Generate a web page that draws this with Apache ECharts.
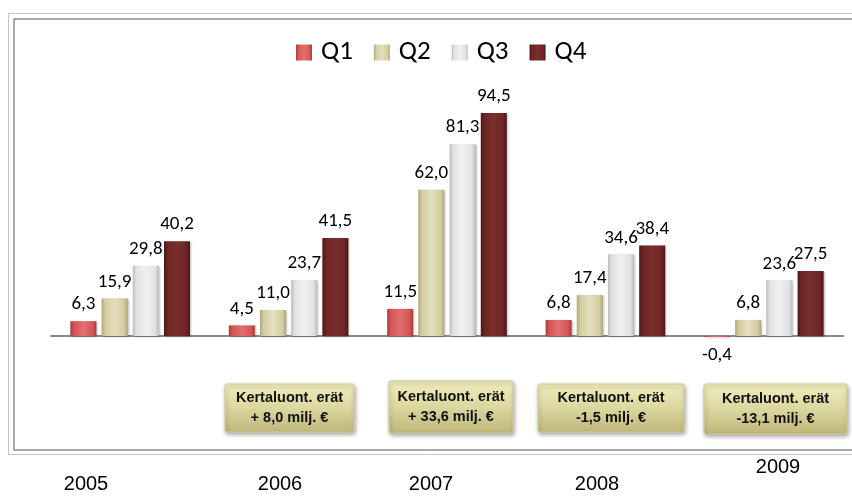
<!DOCTYPE html>
<html>
<head>
<meta charset="utf-8">
<script src="https://cdn.jsdelivr.net/npm/echarts@6/dist/echarts.min.js"></script>
<style>
  html, body { margin: 0; padding: 0; background: #ffffff; }
  #chart { width: 852px; height: 496px; }
</style>
</head>
<body>
<div id="chart"></div>
<script>
const YEARS = ["2005", "2006", "2007", "2008", "2009"];
const SERIES_NAMES = ["Q1", "Q2", "Q3", "Q4"];
const Q1 = [6.3, 4.5, 11.5, 6.8, -0.4];
const Q2 = [15.9, 11.0, 62.0, 17.4, 6.8];
const Q3 = [29.8, 23.7, 81.3, 34.6, 23.6];
const Q4 = [40.2, 41.5, 94.5, 38.4, 27.5];

const NOTE_TITLE = "Kertaluont. erät";
const NOTE_VALUES = ["+ 8,0 milj. €", "+ 33,6 milj. €", "-1,5 milj. €", "-13,1 milj. €"];

// layout (px) for the free-standing texts and boxes
const YEAR_LABEL_POS = [[86, 484], [280, 484], [431, 484], [597, 484], [778, 467]];
const NOTE_BOXES = [[225, 384, 129, 48], [389, 381, 124, 52], [538, 384, 146, 48], [704, 384, 143, 50]];

const BAR_SHADES = [
  ["#a63b3b", "#d65454", "#e07070", "#d65454", "#a63b3b"],
  ["#aea678", "#d4cda2", "#e4dfbd", "#d4cda2", "#aea678"],
  ["#bcbcbc", "#e2e2e2", "#f0f0f0", "#e2e2e2", "#bcbcbc"],
  ["#4c1616", "#6c2525", "#7a2e2e", "#6c2525", "#4c1616"],
];

const LABEL_FONT = "Carlito, 'Noto Sans', sans-serif";

function fmt(v) {
  return v.toFixed(1).replace(".", ",");
}

function barFill(shades) {
  return new echarts.graphic.LinearGradient(0, 0, 1, 0, [
    { offset: 0, color: shades[0] },
    { offset: 0.14, color: shades[1] },
    { offset: 0.5, color: shades[2] },
    { offset: 0.86, color: shades[3] },
    { offset: 1, color: shades[4] },
  ]);
}

const chart = echarts.init(document.getElementById("chart"), null, { renderer: "canvas" });

const seriesData = [Q1, Q2, Q3, Q4];

const graphics = [
  {
    type: "rect",
    shape: { x: 8.5, y: 13.5, width: 860, height: 441 },
    style: { fill: "none", stroke: "#c4c4c4", lineWidth: 1 },
    silent: true,
  },
  {
    type: "rect",
    shape: { x: 14, y: 19, width: 860, height: 431 },
    style: { fill: "none", stroke: "#8e8e8e", lineWidth: 1.5 },
    silent: true,
  },
];

YEARS.forEach((year, i) => {
  graphics.push({
    type: "text",
    x: YEAR_LABEL_POS[i][0],
    y: YEAR_LABEL_POS[i][1],
    style: {
      text: year,
      fill: "#000000",
      font: "20px 'Liberation Sans', Arial, sans-serif",
      textAlign: "center",
      textVerticalAlign: "middle",
    },
    silent: true,
  });
});

NOTE_VALUES.forEach((value, i) => {
  const [x, y, w, h] = NOTE_BOXES[i];
  graphics.push({
    type: "rect",
    shape: { x, y, width: w, height: h, r: 2 },
    style: {
      fill: new echarts.graphic.LinearGradient(0, 0, 0, 1, [
        { offset: 0, color: "#f1eebf" },
        { offset: 0.5, color: "#dcd79f" },
        { offset: 1, color: "#bdb77a" },
      ]),
      stroke: "#d2cd95",
      lineWidth: 1,
      shadowBlur: 4,
      shadowOffsetX: 1,
      shadowOffsetY: 2,
      shadowColor: "rgba(0,0,0,0.35)",
    },
    silent: true,
  });
  graphics.push({
    type: "text",
    x: x + w / 2,
    y: y + h / 2,
    style: {
      text: NOTE_TITLE + "\n" + value,
      fill: "#111111",
      font: "bold 14.5px 'Liberation Sans', Arial, sans-serif",
      lineHeight: 20,
      textAlign: "center",
      textVerticalAlign: "middle",
    },
    silent: true,
  });
});

chart.setOption({
  backgroundColor: "#ffffff",
  animation: false,
  grid: { left: 51, right: 9, top: 100, height: 330.4 },
  legend: {
    top: 39,
    left: 296,
    padding: 0,
    itemWidth: 16,
    itemHeight: 16,
    itemGap: 21,
    icon: "rect",
    data: SERIES_NAMES,
    textStyle: { fontFamily: LABEL_FONT, fontSize: 27, color: "#000000", padding: [0, 0, 0, 4] },
  },
  xAxis: {
    type: "category",
    data: YEARS,
    axisLine: { onZero: true, lineStyle: { color: "#8a8a8a", width: 2 } },
    axisTick: { show: false },
    axisLabel: { show: false },
  },
  yAxis: {
    type: "value",
    min: -40,
    max: 100,
    show: false,
    splitLine: { show: false },
  },
  series: SERIES_NAMES.map((name, s) => ({
    name,
    type: "bar",
    barWidth: 26,
    barGap: "20%",
    itemStyle: {
      color: barFill(BAR_SHADES[s]),
      shadowBlur: 2,
      shadowOffsetX: 1,
      shadowOffsetY: 1,
      shadowColor: "rgba(0,0,0,0.25)",
    },
    label: {
      show: true,
      position: "top",
      distance: 7,
      fontFamily: LABEL_FONT,
      fontSize: 19,
      color: "#000000",
      formatter: (p) => fmt(p.value),
    },
    data: seriesData[s].map((v) =>
      v < 0 ? { value: v, label: { position: "bottom", distance: 9 } } : v
    ),
  })),
  graphic: graphics,
});
</script>
</body>
</html>
